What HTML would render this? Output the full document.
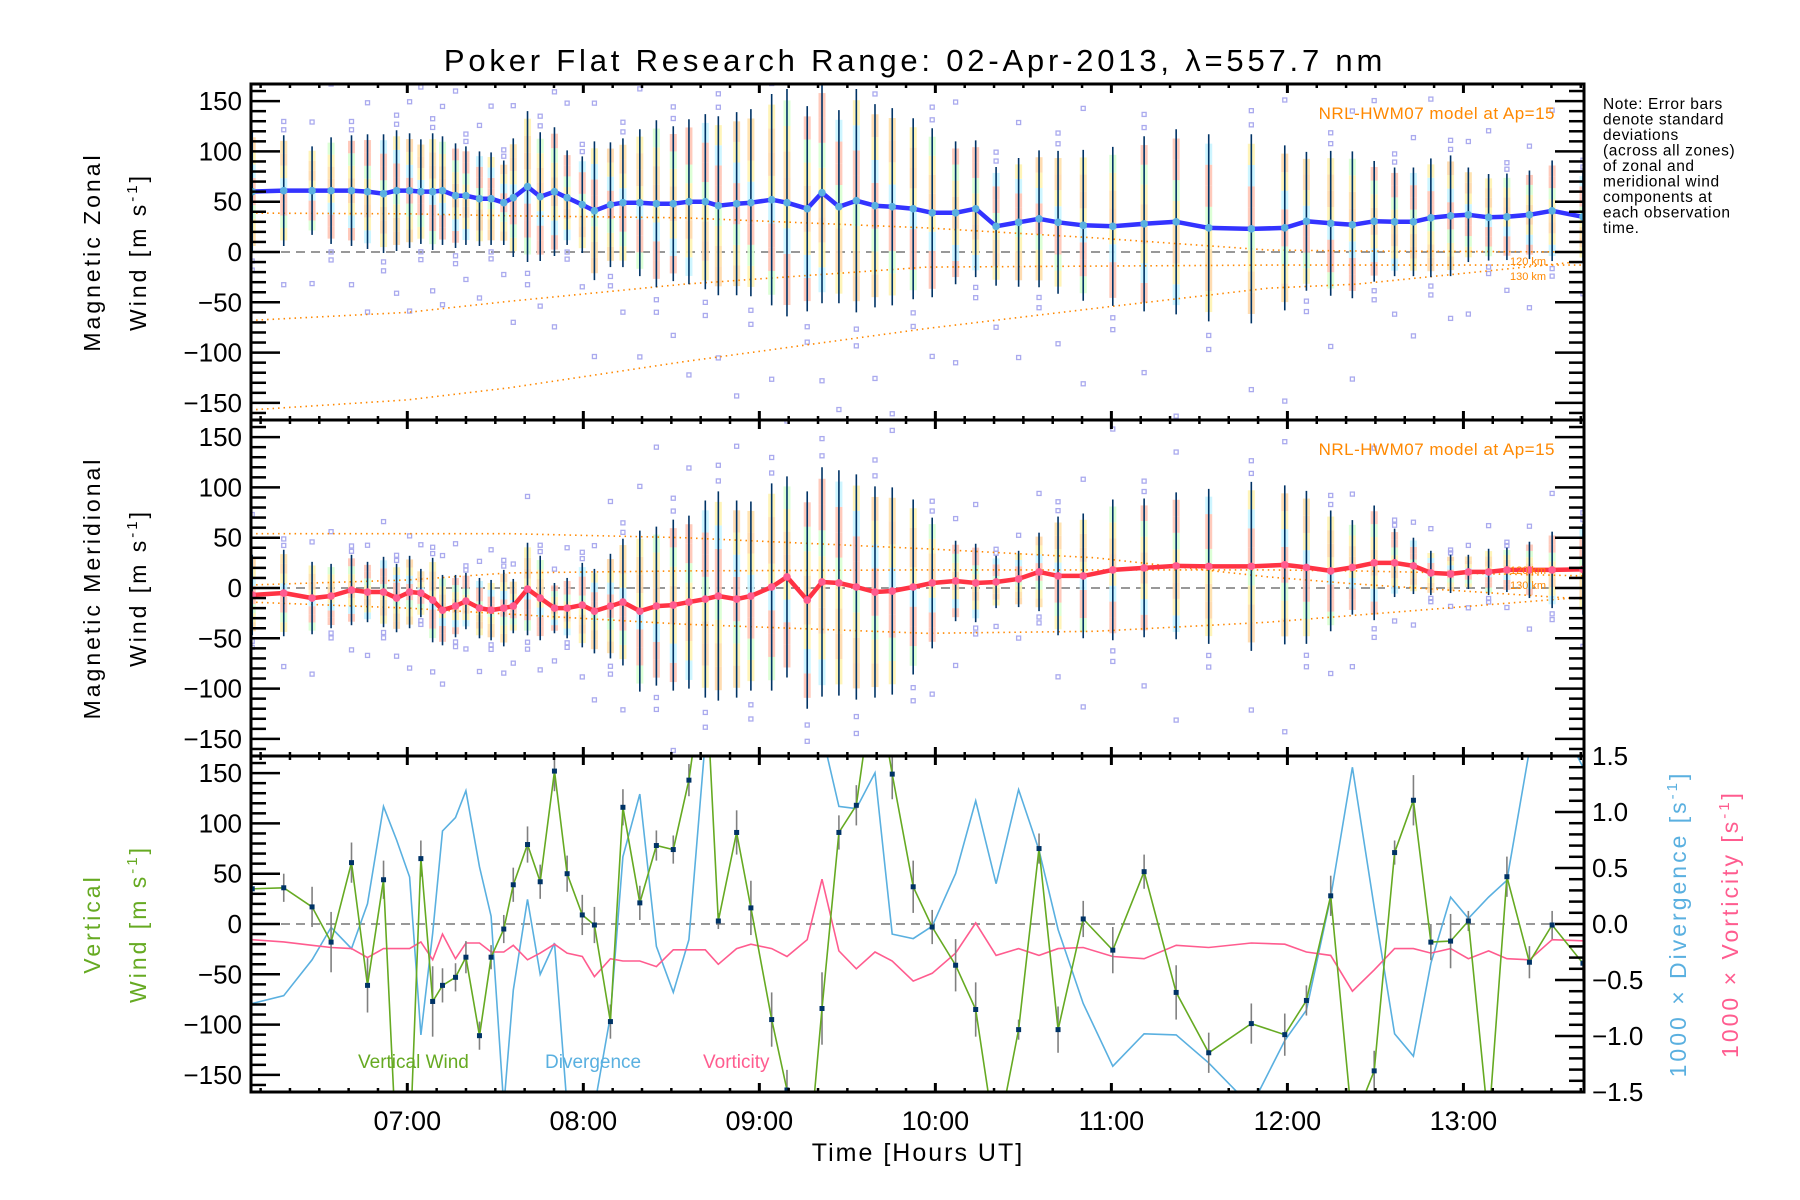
<!DOCTYPE html>
<html><head><meta charset="utf-8"><style>
html,body{margin:0;padding:0;background:#fff;}
svg{display:block;font-family:"Liberation Sans",sans-serif;}
</style></head><body>
<svg id="chart" width="1800" height="1200" viewBox="0 0 1800 1200" xmlns="http://www.w3.org/2000/svg">
<defs>
<clipPath id="clipTop"><rect x="251" y="84" width="1333" height="336"/></clipPath>
<clipPath id="clipMid"><rect x="251" y="420" width="1333" height="336"/></clipPath>
<clipPath id="clipBot"><rect x="251" y="756" width="1333" height="336"/></clipPath>
</defs>
<text x="915" y="71" font-size="31" text-anchor="middle" letter-spacing="3.8">Poker Flat Research Range: 02-Apr-2013, λ=557.7 nm</text>
<g id="layer"></g>
<g font-size="15.5" letter-spacing="0.6">
<text x="1603" y="109">Note: Error bars</text>
<text x="1603" y="124.5">denote standard</text>
<text x="1603" y="140">deviations</text>
<text x="1603" y="155.5">(across all zones)</text>
<text x="1603" y="171">of zonal and</text>
<text x="1603" y="186.5">meridional wind</text>
<text x="1603" y="202">components at</text>
<text x="1603" y="217.5">each observation</text>
<text x="1603" y="233">time.</text>
</g>
<g font-size="23" letter-spacing="3">
<text transform="translate(100,252) rotate(-90)" text-anchor="middle">Magnetic Zonal</text>
<text transform="translate(146,252) rotate(-90)" text-anchor="middle">Wind [m s<tspan font-size="15" dy="-9">-1</tspan><tspan dy="9">]</tspan></text>
<text transform="translate(100,588) rotate(-90)" text-anchor="middle">Magnetic Meridional</text>
<text transform="translate(146,588) rotate(-90)" text-anchor="middle">Wind [m s<tspan font-size="15" dy="-9">-1</tspan><tspan dy="9">]</tspan></text>
<text fill="#66aa22" transform="translate(100,924) rotate(-90)" text-anchor="middle">Vertical</text>
<text fill="#66aa22" transform="translate(146,924) rotate(-90)" text-anchor="middle">Wind [m s<tspan font-size="15" dy="-9">-1</tspan><tspan dy="9">]</tspan></text>
<text fill="#5ab0e0" transform="translate(1686,924) rotate(-90)" text-anchor="middle">1000 × Divergence [s<tspan font-size="15" dy="-9">-1</tspan><tspan dy="9">]</tspan></text>
<text fill="#ff5c8f" transform="translate(1738,924) rotate(-90)" text-anchor="middle">1000 × Vorticity [s<tspan font-size="15" dy="-9">-1</tspan><tspan dy="9">]</tspan></text>
</g>
<text x="918" y="1161" font-size="25" text-anchor="middle" letter-spacing="2">Time [Hours UT]</text>
<text x="1555" y="119" font-size="17" fill="#ff8800" text-anchor="end" letter-spacing="0.5">NRL-HWM07 model at Ap=15</text>
<text x="1555" y="455" font-size="17" fill="#ff8800" text-anchor="end" letter-spacing="0.5">NRL-HWM07 model at Ap=15</text>
<text x="1510" y="265" font-size="11" fill="#ff8800">120 km</text>
<text x="1510" y="280" font-size="11" fill="#ff8800">130 km</text>
<text x="1510" y="574" font-size="11" fill="#ff8800">120 km</text>
<text x="1510" y="589" font-size="11" fill="#ff8800">130 km</text>
<text x="358" y="1068" font-size="19" fill="#66aa22">Vertical Wind</text>
<text x="545" y="1068" font-size="19" fill="#5ab0e0">Divergence</text>
<text x="703" y="1068" font-size="19" fill="#ff5c8f">Vorticity</text>
</svg>
<script>
const times=[6.119,6.298,6.459,6.567,6.683,6.774,6.865,6.939,7.013,7.077,7.144,7.200,7.274,7.333,7.410,7.476,7.548,7.602,7.683,7.755,7.836,7.908,7.994,8.063,8.154,8.225,8.321,8.415,8.511,8.600,8.693,8.767,8.871,8.952,9.070,9.157,9.272,9.356,9.452,9.551,9.657,9.755,9.874,
9.982,10.115,10.229,10.345,10.473,10.589,10.697,10.840,11.008,11.186,11.368,11.553,11.795,11.985,12.108,12.246,12.369,12.493,12.609,12.716,12.815,12.927,13.028,13.143,13.247,13.375,13.504,13.679];
const zonal=[60,61,61,61,61,60,58,61,61,60,60,61,56,56,53,53,49,54,65,55,60,54,47,41,47,49,49,48,48,50,50,46,48,49,52,49,43,59,45,51,46,45,43,
39,39,43,25.5,29.5,33,29.5,26.5,25.5,28,30,24,23,24,30.5,28.5,27,30.5,30,30,34,36,37,34.5,35,37,41,35];
const zonalErr=[60,55,44,53,55,57,59,60,57,52,58,54,52,49,47,46,42,59,75,64,64,47,48,69,62,64,73,83,77,82,87,89,91,93,105,113,102,110,96,111,101,98,90,
84,71,68,59,64,68,71,75,79,87,92,93,94,82,69,72,73,60,54,54,59,60,47,43,43,44,50,45];
const merid=[-7,-5,-10,-8,-2,-4,-4,-10,-4,-5,-12,-22,-18,-13,-20,-22,-20,-18,-1,-10,-20,-20,-17,-23,-18,-14,-23,-18,-17,-14,-11,-8,-11,-8,1,11,-12,6,5,1,-4,-3,1,
5,7,5,6,9,16,12,12,18,20,22,21.5,21.5,23,20.5,17,20.5,25,25,22,15,14,16,16,18,18,18,18.5];
const meridErr=[40,43,36,32,35,30,35,34,36,24,42,35,31,28,30,30,38,27,46,42,25,30,42,42,52,63,80,79,85,86,98,104,98,94,103,100,108,114,112,112,105,103,87,
65,40,39,26,28,39,59,62,70,69,73,77,84,79,76,60,47,57,34,28,22,19,17,23,22,28,38,45];
const vert=[35,36,17,-18,61,-61,44,-230,-230,65,-77,-61,-53,-33,-111,-33,-5,39,79,42,152,50,9,-1,-97,116,21,78,74,143,260,3,91,16,-95,-165,-250,-84,91,118,250,149,37,
-3,-41,-85,-220,-105,75,-105,5,-26,52,-68,-128,-99,-110,-76,28,-200,-146,71,123,-18,-17,3,-200,47,-38,-1,-39];
const vertErr=[15,14,20,30,20,27,19,20,20,18,35,17,14,16,14,12,14,17,18,17,20,18,20,18,17,18,17,15,14,16,20,8,22,27,27,20,20,36,17,20,20,25,26,
17,26,27,20,10,15,23,18,23,17,27,20,20,21,15,20,20,20,12,25,18,27,10,14,20,16,14,15];
const div=[-0.71,-0.64,-0.32,-0.03,-0.22,0.18,1.05,0.75,0.42,-0.99,-0.08,0.83,0.95,1.19,0.51,0.07,-1.63,-0.59,0.22,-0.45,-0.17,-1.63,-1.78,-1.63,-0.82,0.60,1.16,-0.20,-0.61,-0.14,1.64,1.73,1.7,1.7,1.7,1.7,1.7,1.7,1.05,1.03,1.35,-0.09,-0.13,
-0.02,0.45,1.10,0.36,1.20,0.66,-0.05,-0.71,-1.27,-0.98,-0.99,-1.24,-1.63,-1.04,-0.77,0.24,1.40,0.15,-0.98,-1.18,-0.35,0.24,0.05,0.24,0.39,1.55,1.95,1.40];
const vort=[-0.14,-0.16,-0.19,-0.21,-0.22,-0.30,-0.22,-0.22,-0.22,-0.16,-0.32,-0.09,-0.31,-0.17,-0.17,-0.25,-0.25,-0.19,-0.32,-0.26,-0.18,-0.26,-0.29,-0.47,-0.31,-0.33,-0.33,-0.38,-0.23,-0.23,-0.23,-0.36,-0.22,-0.18,-0.22,-0.29,-0.14,0.40,-0.24,-0.40,-0.25,-0.33,-0.51,
-0.44,-0.26,0.01,-0.28,-0.22,-0.28,-0.22,-0.21,-0.29,-0.31,-0.19,-0.21,-0.17,-0.18,-0.25,-0.28,-0.60,-0.41,-0.22,-0.22,-0.26,-0.22,-0.31,-0.24,-0.31,-0.32,-0.14,-0.15];
const modelTimes=[6.11,7.0,7.58,8.57,9.95,10.91,11.89,12.39,13.69];
const zonalModelA=[38.7,38,36,34,24,14,2,1,0];
const zonalModelB=[-68,-60,-49,-32,-15,-14,-13,-13,-13];
const zonalModelC=[-157,-147,-135,-109,-76,-56,-36,-32,-9];
const meridModelD=[54,54,54,50,39,30,11,4,-11];
const meridModelE=[3,8,15,17,18,18,18,17,12];
const meridModelF=[-14,-20,-26,-36,-45,-43,-34,-27,-9];
const yTicks=[-150,-100,-50,0,50,100,150];
const rTicks=[-1.5,-1.0,-0.5,0.0,0.5,1.0,1.5];
const hourTicks=[7,8,9,10,11,12,13];
const hourLabels=["07:00","08:00","09:00","10:00","11:00","12:00","13:00"];
const scatterK=[1.25,-1.3,1.55,-1.7,2.0,-2.1,1.1,-1.15];

const NS='http://www.w3.org/2000/svg';
const L=251,R=1584,PH=336,tops=[84,420,756];
const T0=6.112,T1=13.685;
function xs(h){return L+(h-T0)*(R-L)/(T1-T0);}
function ys(p,v){return tops[p]+PH/2-v*PH/334;}
function yr(v){return tops[2]+PH/2-v*PH/3;}
const layer=document.getElementById('layer');
function mk(tag,attrs,parent){const e=document.createElementNS(NS,tag);for(const k in attrs)e.setAttribute(k,attrs[k]);(parent||layer).appendChild(e);return e;}
function grp(name,clip){const g=mk('g',clip?{'clip-path':'url(#'+clip+')'}:{});


return g;}
function poly(arrT,arrV,fy,attrs,parent){const pts=arrT.map((t,i)=>xs(t).toFixed(1)+','+fy(arrV[i]).toFixed(1)).join(' ');return mk('polyline',Object.assign({points:pts,fill:'none'},attrs),parent);}

const clips=['clipTop','clipMid','clipBot'];
const stripCols=['#ffe0a8','#fff3b0','#d8ffd0','#ffc4b4','#ffc4b4','#c8f4ff','#fff3b0','#ffd8a8'];
function windPanel(p,vals,errs,lineCol,dotCol,models,name){
  const g=grp(name+'-plot',clips[p]);
  const z=mk('line',{x1:L,x2:R,y1:ys(p,0),y2:ys(p,0),stroke:'#777','stroke-width':1.5,'stroke-dasharray':'9,6'},g);
  
  
  times.forEach((t,i)=>{
    const x=xs(t),m=vals[i],s=errs[i];
    const n=stripCols.length;
    for(let k=0;k<n;k++){
      const a=m-s*0.9+k*(1.8*s/n),b=a+1.8*s/n;
      const r=mk('rect',{x:x-3.5,y:ys(p,b),width:7,height:Math.max(1,ys(p,a)-ys(p,b)),fill:stripCols[(k+i)%n],opacity:0.9},g);
      
      
    }
    scatterK.forEach((kk,j)=>{
      if((i+j)%3!==1)return;
      const sq=mk('rect',{x:x-2,y:ys(p,m+kk*s)-2,width:4,height:4,fill:'none',stroke:'#aaaaee','stroke-width':1.3},g);
      
      
    });
  });
  models.forEach((mv,j)=>{
    const pl=poly(modelTimes,mv,v=>ys(p,v),{stroke:'#ff8800','stroke-width':1.6,'stroke-dasharray':'1.5,4'},g);
    
    
  });
  times.forEach((t,i)=>{
    const eb=mk('line',{x1:xs(t),x2:xs(t),y1:ys(p,vals[i]+errs[i]),y2:ys(p,vals[i]-errs[i]),stroke:'#003366','stroke-width':1.6},g);
    
    
  });
  const ln=poly(times,vals,v=>ys(p,v),{stroke:lineCol,'stroke-width':4.5,'stroke-linejoin':'round'},g);
  
  
  times.forEach((t,i)=>{
    const c=mk('circle',{cx:xs(t),cy:ys(p,vals[i]),r:3.8,fill:dotCol},g);
    
    
  });
}
windPanel(0,zonal,zonalErr,'#3333ff','#5ab0e0',[zonalModelA,zonalModelB,zonalModelC],'zonal');
windPanel(1,merid,meridErr,'#ff3344','#ff5c8f',[meridModelD,meridModelE,meridModelF],'meridional');

(function(){
  const g=grp('vertical-plot','clipBot');
  const z=mk('line',{x1:L,x2:R,y1:ys(2,0),y2:ys(2,0),stroke:'#777','stroke-width':1.5,'stroke-dasharray':'9,6'},g);
  
  
  const dl=poly(times,div,yr,{stroke:'#5ab0e0','stroke-width':1.6},g);
  
  
  const vl=poly(times,vort,yr,{stroke:'#ff5c8f','stroke-width':1.6},g);
  
  
  times.forEach((t,i)=>{
    const eb=mk('line',{x1:xs(t),x2:xs(t),y1:ys(2,vert[i]+vertErr[i]),y2:ys(2,vert[i]-vertErr[i]),stroke:'#808080','stroke-width':1.6},g);
    
    
  });
  const wl=poly(times,vert,v=>ys(2,v),{stroke:'#66aa22','stroke-width':1.6},g);
  
  
  times.forEach((t,i)=>{
    const c=mk('rect',{x:xs(t)-2.5,y:ys(2,vert[i])-2.5,width:5,height:5,fill:'#003366'},g);
    
    
  });
})();

const ax=grp('axes',null);
for(let p=0;p<3;p++){
  const f=mk('rect',{x:L,y:tops[p],width:R-L,height:PH,fill:'none',stroke:'#000','stroke-width':3},ax);
  
  
  for(let v=-160;v<=160;v+=10){
    const len=(v%50===0)?29:15;
    mk('line',{x1:L,x2:L+len,y1:ys(p,v),y2:ys(p,v),stroke:'#000','stroke-width':2.5},ax);
    if(p<2) mk('line',{x1:R,x2:R-len,y1:ys(p,v),y2:ys(p,v),stroke:'#000','stroke-width':2.5},ax);
  }
  yTicks.forEach(v=>{
    const tx=mk('text',{x:242,y:ys(p,v)+9,'font-size':26,'text-anchor':'end'},ax);
    tx.textContent=(v<0?'\u2212'+(-v):String(v));
    
    
  });
  for(let m=370;m<=820;m+=10){
    const h=m/60; if(h<T0||h>T1)continue;
    const maj=(m%60===0);const len=maj?9:4;const x=xs(h);
    mk('line',{x1:x,x2:x,y1:tops[p],y2:tops[p]+len,stroke:'#000','stroke-width':maj?3:2.5},ax);
    mk('line',{x1:x,x2:x,y1:tops[p]+PH,y2:tops[p]+PH-len,stroke:'#000','stroke-width':maj?3:2.5},ax);
  }
}
for(let k=-15;k<=15;k++){
  const v=k/10;const len=(k%5===0)?29:15;
  mk('line',{x1:R,x2:R-len,y1:yr(v),y2:yr(v),stroke:'#000','stroke-width':2.5},ax);
}
rTicks.forEach(v=>{
  const tx=mk('text',{x:1592,y:yr(v)+9,'font-size':26},ax);
  tx.textContent=(v<0?'\u2212':'')+Math.abs(v).toFixed(1);
  
  
});
hourTicks.forEach((h,i)=>{
  const tx=mk('text',{x:xs(h),y:1130,'font-size':27,'text-anchor':'middle'},ax);
  tx.textContent=hourLabels[i];
  
  
});
</script>
</body></html>
